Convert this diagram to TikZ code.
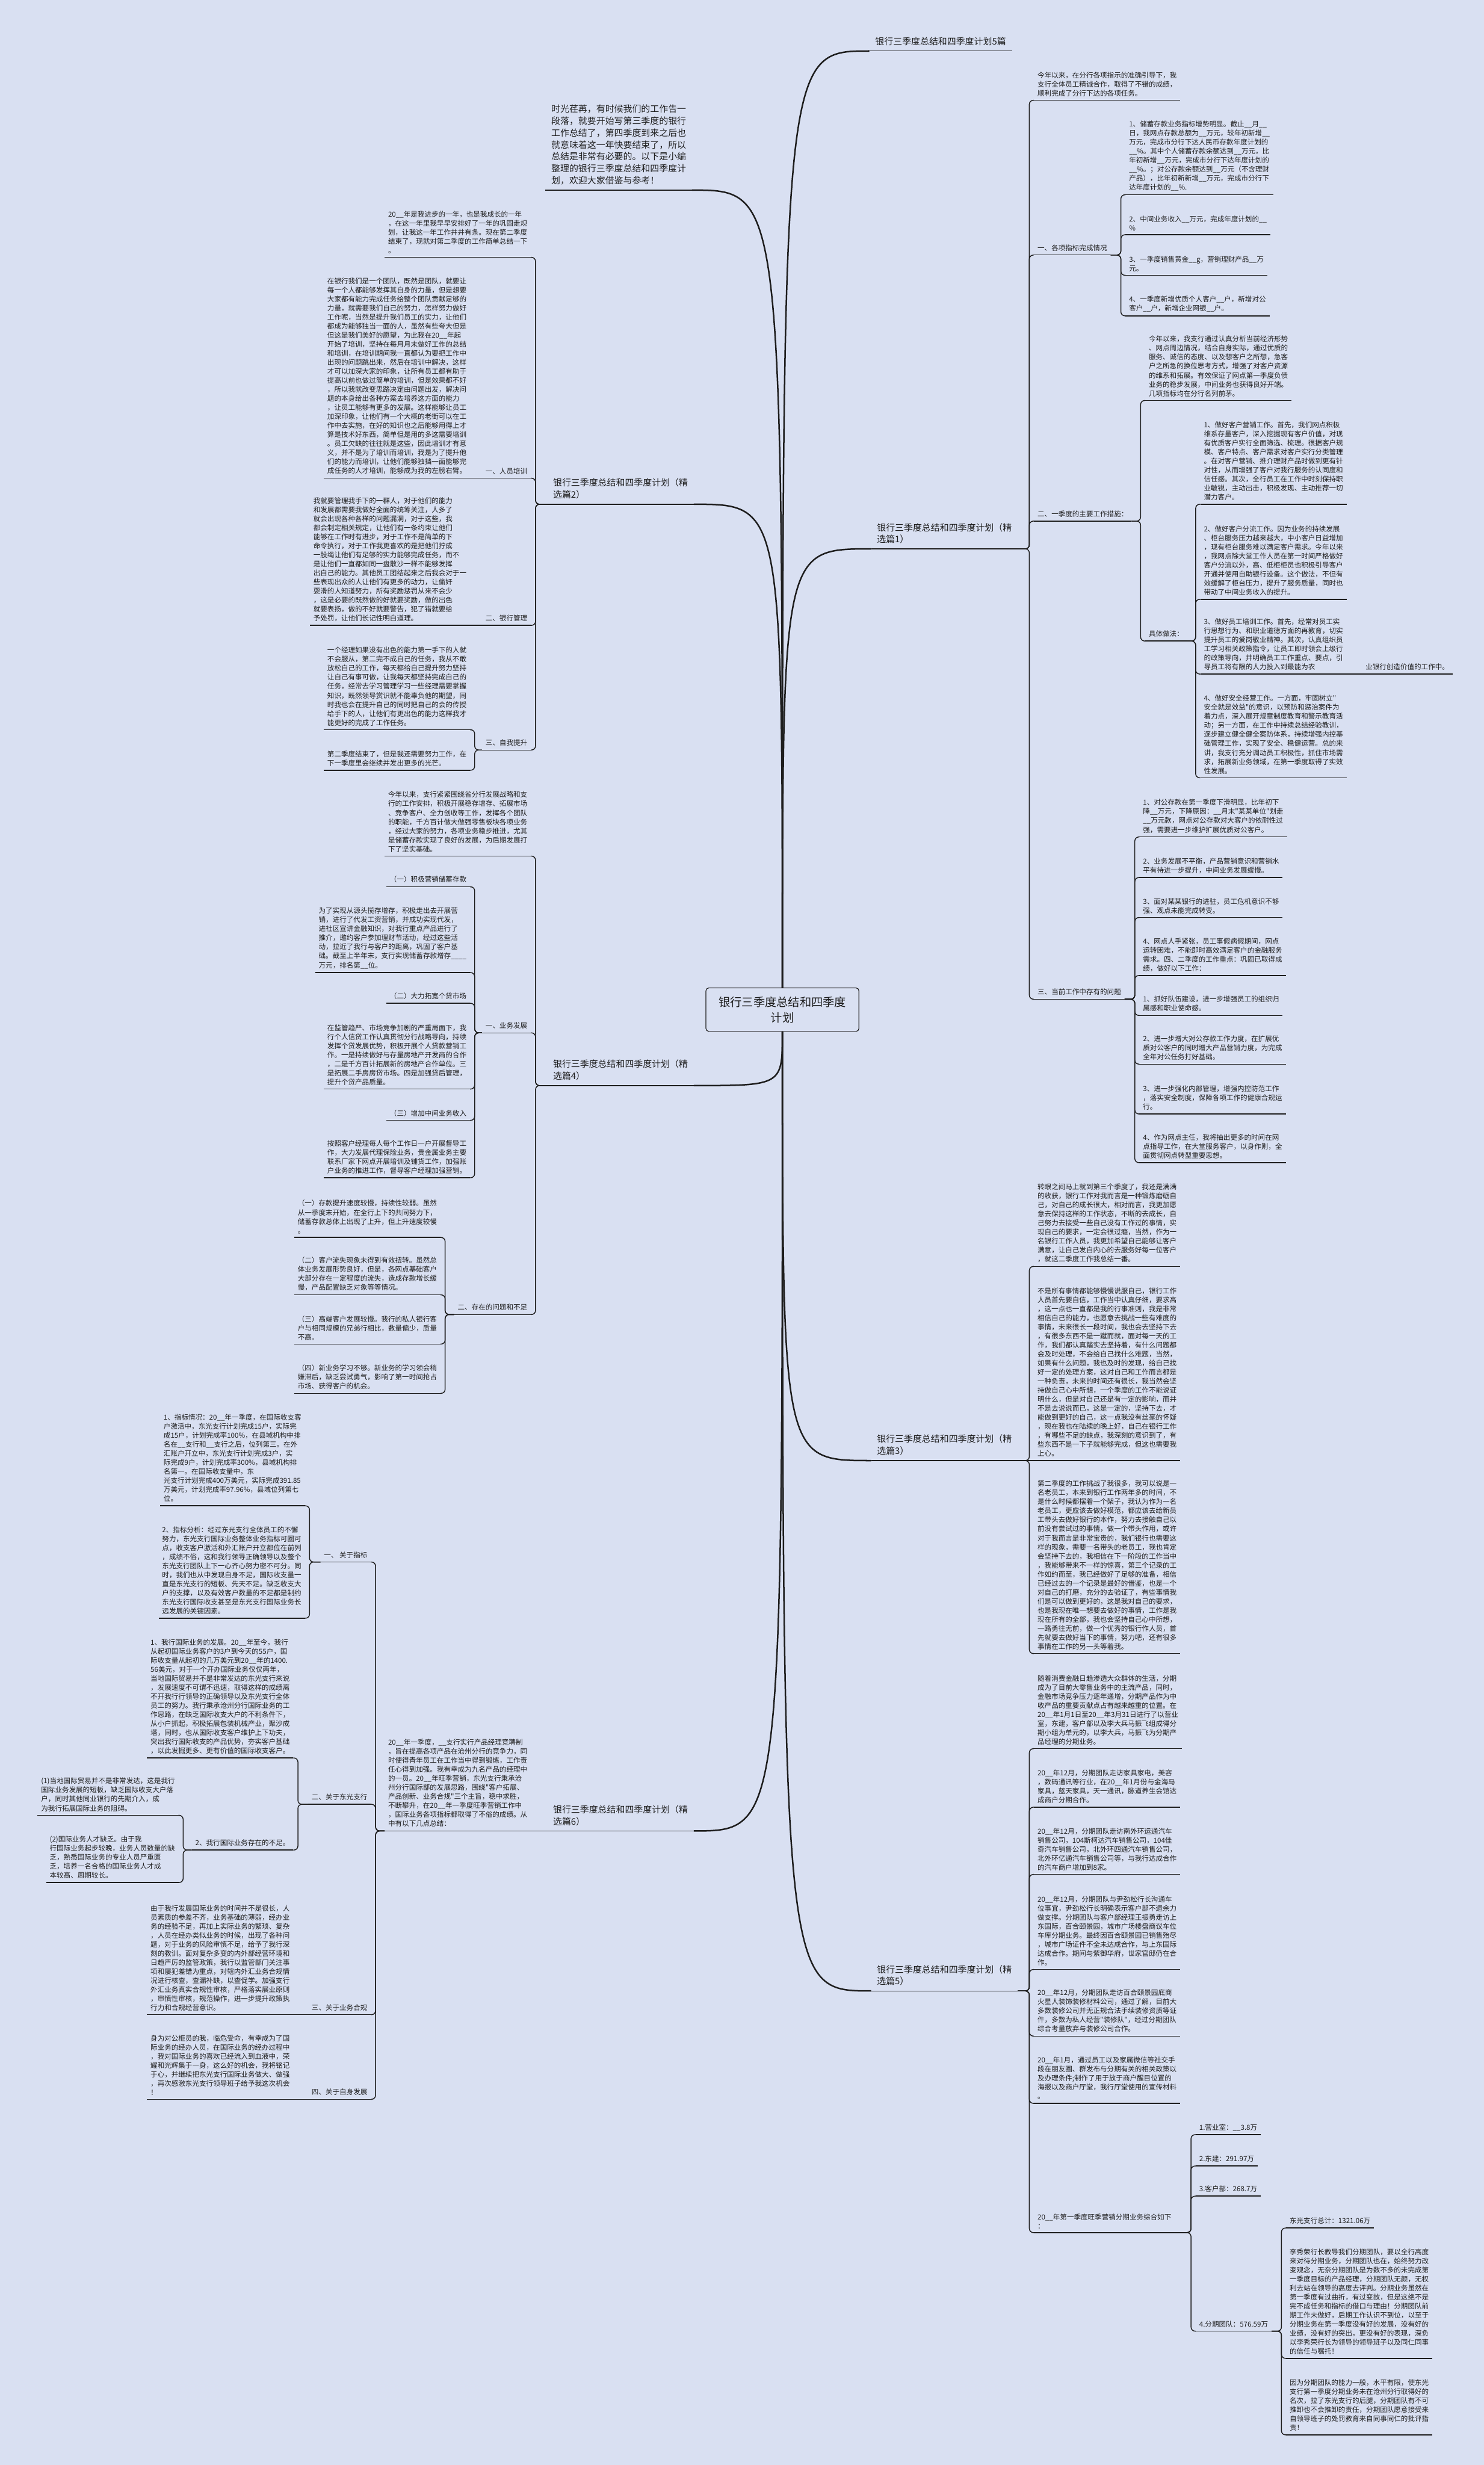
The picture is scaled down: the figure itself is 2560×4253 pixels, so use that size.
\documentclass[tikz,border=0pt]{standalone}
\usepackage{fontspec}
\newfontfamily\cjk{Noto Sans CJK SC}
\definecolor{bg}{RGB}{217,224,242}
\definecolor{ink}{RGB}{30,30,30}
\newcommand{\uu}{\_\_}
\begin{document}
\begin{tikzpicture}[x=1pt,y=-1pt,
    % text blocks, underlined
    txt/.style={font=\cjk\fontsize{12}{15.6}\selectfont,text=ink,align=left,
      inner xsep=6pt,inner ysep=6.5pt,underl},
    head/.style={font=\cjk\fontsize{15.5}{20.5}\selectfont,text=ink,align=left,
      inner xsep=10pt,inner ysep=9pt,underl},
    root/.style={draw=ink,line width=1.2pt,rounded corners=5pt,fill=bg,text=ink,
      font=\cjk\fontsize{20}{27}\selectfont,align=center,
      minimum width=264pt,minimum height=75pt},
    underl/.style={append after command={(\tikzlastnode.south west) edge[ulpen] (\tikzlastnode.south east)}},
    ulpen/.style={draw=ink,line width=1.5pt},
    fork/.style={draw=ink,line width=1.5pt,rounded corners=7pt},
    trunk/.style={draw=ink,line width=2.6pt}]
  \fill[bg] (0,0) rectangle (2560,4253);
  \useasboundingbox (0,0) rectangle (2560,4253);

  \node (root) [root] at (1350,1742) {银行三季度总结和四季度\\计划};

  % right side
  \node (t5) [head,anchor=south west] at (1500,88) {银行三季度总结和四季度计划5篇};

  \node (b1) [head,anchor=south west] at (1503,947) {银行三季度总结和四季度计划（精\\选篇1）};
  \node (b1i) [txt,anchor=south west] at (1784,173) {今年以来，在分行各项指示的准确引导下，我\\支行全体员工精诚合作，取得了不错的成绩，\\顺利完成了分行下达的各项任务。};
  \node (b1a) [txt,anchor=south west] at (1784,440) {一、各项指标完成情况};
  \node (b1a1) [txt,anchor=south west] at (1942,336) {1、储蓄存款业务指标增势明显。截止\uu 月\uu\\日，我网点存款总额为\uu 万元，较年初新增\uu\\万元，完成市分行下达人民币存款年度计划的\\\uu\%。其中个人储蓄存款余额达到\uu 万元，比\\年初新增\uu 万元，完成市分行下达年度计划的\\\uu\%。；对公存款余额达到\uu 万元（不含理财\\产品），比年初新新增\uu 万元，完成市分行下\\达年度计划的\uu\%.};
  \node (b1a2) [txt,anchor=south west] at (1942,405) {2、中间业务收入\uu 万元，完成年度计划的\uu\\\%};
  \node (b1a3) [txt,anchor=south west] at (1942,475) {3、一季度销售黄金\uu g，营销理财产品\uu 万\\元。};
  \node (b1a4) [txt,anchor=south west] at (1942,545) {4、一季度新增优质个人客户\uu 户，新增对公\\客户\uu 户，新增企业网银\uu 户。};
  \node (b1b) [txt,anchor=south west] at (1784,899) {二、一季度的主要工作措施：};
  \node (b1b1) [txt,anchor=south west] at (1976,691) {今年以来，我支行通过认真分析当前经济形势\\、网点周边情况，结合自身实际，通过优质的\\服务、诚信的态度、以及想客户之所想，急客\\户之所急的换位思考方式，增强了对客户资源\\的维系和拓展。有效保证了网点第一季度负债\\业务的稳步发展，中间业务也获得良好开端。\\几项指标均在分行名列前茅。};
  \node (b1b2) [txt,anchor=south west] at (1976,1106) {具体做法：};
  \node (b1c1) [txt,anchor=south west] at (2071,870) {1、做好客户营销工作。首先，我们网点积极\\维系存量客户，深入挖掘现有客户价值，对现\\有优质客户实行全面筛选、梳理。很据客户规\\模、客户特点、客户需求对客户实行分类管理\\。在对客户营销、推介理财产品时做到更有针\\对性，从而增强了客户对我行服务的认同度和\\信任感。其次，全行员工在工作中时刻保持职\\业敏锐，主动出击，积极发现、主动推荐一切\\潜力客户。};
  \node (b1c2) [txt,anchor=south west] at (2071,1034) {2、做好客户分流工作。因为业务的持续发展\\、柜台服务压力越来越大，中小客户日益增加\\，现有柜台服务难以满足客户需求。今年以来\\，我网点除大堂工作人员在第一时间严格做好\\客户分流以外，高、低柜柜员也积极引导客户\\开通并使用自助银行设备。这个做法，不但有\\效缓解了柜台压力，提升了服务质量，同时也\\带动了中间业务收入的提升。};
  \node (b1c3) [txt,anchor=south west] at (2071,1163) {3、做好员工培训工作。首先，经常对员工实\\行思想行为、和职业道德方面的再教育，切实\\提升员工的爱岗敬业精神。其次，认真组织员\\工学习相关政策指令，让员工即时领会上级行\\的政策导向，并明确员工工作重点、要点，引\\导员工将有限的人力投入到最能为农};
  \node (b1c3x) [txt,anchor=south west] at (2350,1163) {业银行创造价值的工作中。};
  \node (b1c4) [txt,anchor=south west] at (2071,1342) {4、做好安全经营工作。一方面，牢固树立"\\安全就是效益"的意识，以预防和惩治案件为\\着力点，深入展开规章制度教育和警示教育活\\动；另一方面，在工作中持续总结经验教训，\\逐步建立健全健全案防体系，持续增强内控基\\础管理工作，实现了安全、稳健运营。总的来\\讲，我支行充分调动员工积极性，抓住市场需\\求，拓展新业务领域，在第一季度取得了实效\\性发展。};
  \node (b1c) [txt,anchor=south west] at (1784,1724) {三、当前工作中存有的问题};
  \node (b1d1) [txt,anchor=south west] at (1966,1444) {1、对公存款在第一季度下滑明显，比年初下\\降\uu 万元，下降原因：\uu 月末"某某单位"划走\\\uu 万元款，网点对公存款对大客户的依耐性过\\强，需要进一步维护扩展优质对公客户。};
  \node (b1d2) [txt,anchor=south west] at (1966,1514) {2、业务发展不平衡，产品营销意识和营销水\\平有待进一步提升，中间业务发展缓慢。};
  \node (b1d3) [txt,anchor=south west] at (1966,1583) {3、面对某某银行的进驻，员工危机意识不够\\强、观点未能完成转变。};
  \node (b1d4) [txt,anchor=south west] at (1966,1683) {4、网点人手紧张，员工事假病假期间，网点\\运转困难，不能即时高效满足客户的金融服务\\需求。四、二季度的工作重点：巩固已取得成\\绩，做好以下工作：};
  \node (b1d5) [txt,anchor=south west] at (1966,1752) {1、抓好队伍建设，进一步增强员工的组织归\\属感和职业使命感。};
  \node (b1d6) [txt,anchor=south west] at (1966,1836) {2、进一步增大对公存款工作力度，在扩展优\\质对公客户的同时增大产品营销力度，为完成\\全年对公任务打好基础。};
  \node (b1d7) [txt,anchor=south west] at (1966,1922) {3、进一步强化内部管理，增强内控防范工作\\，落实安全制度，保障各项工作的健康合规运\\行。};
  \node (b1d8) [txt,anchor=south west] at (1966,2006) {4、作为网点主任，我将抽出更多的时间在网\\点指导工作，在大堂服务客户，以身作则，全\\面贯彻网点转型重要思想。};

  \node (b3) [head,anchor=south west] at (1503,2520) {银行三季度总结和四季度计划（精\\选篇3）};
  \node (b3a) [txt,anchor=south west] at (1784,2185) {转眼之间马上就到第三个季度了，我还是满满\\的收获，银行工作对我而言是一种锻炼磨砺自\\己，对自己的成长很大，相对而言，我更加愿\\意去保持这样的工作状态，不断的去成长，自\\己努力去接受一些自己没有工作过的事情，实\\现自己的要求，一定会很过瘾，当然，作为一\\名银行工作人员，我更加希望自己能够让客户\\满意，让自己发自内心的去服务好每一位客户\\，就这二季度工作我总结一番。};
  \node (b3b) [txt,anchor=south west] at (1784,2520) {不是所有事情都能够慢慢说服自己，银行工作\\人员首先要自信，工作当中认真仔细，要求高\\，这一点也一直都是我的行事准则，我是非常\\相信自己的能力，也愿意去挑战一些有难度的\\事情，未来很长一段时间，我也会去坚持下去\\，有很多东西不是一蹴而就，面对每一天的工\\作，我们都认真踏实去坚持着，有什么问题都\\会及时处理，不会给自己找什么难题，当然，\\如果有什么问题，我也及时的发现，给自己找\\好一定的处理方案，这对自己和工作而言都是\\一种负责，未来的时间还有很长，我当然会坚\\持做自己心中所想，一个季度的工作不能说证\\明什么，但是对自己还是有一定的影响，而并\\不是去说说而已，这是一定的，坚持下去，才\\能做到更好的自己，这一点我没有丝毫的怀疑\\，现在我也在陆续的晚上好，自己在银行工作\\，有哪些不足的缺点，我深刻的意识到了，有\\些东西不是一下子就能够完成，但这也需要我\\上心。};
  \node (b3c) [txt,anchor=south west] at (1784,2853) {第二季度的工作挑战了我很多，我可以说是一\\名老员工，本来到银行工作两年多的时间，不\\是什么时候都摆着一个架子，我认为作为一名\\老员工，更应该去做好模范，都应该去给新员\\工带头去做好银行的本作，努力去接触自己以\\前没有尝试过的事情，做一个带头作用，或许\\对于我而言是非常宝贵的，我们银行也需要这\\样的现象，需要一名带头的老员工，我也肯定\\会坚持下去的，我相信在下一阶段的工作当中\\，我能够带来不一样的惊喜，第三个记录的工\\作如约而至，我已经做好了足够的准备，相信\\已经过去的一个记录是最好的借鉴，也是一个\\对自己的打磨，充分的去验证了，有些事情我\\们是可以做到更好的，这是我对自己的要求，\\也是我现在唯一想要去做好的事情，工作是我\\现在所有的全部，我也会坚持自己心中所想，\\一路勇往无前，做一个优秀的银行作人员，首\\先就要去做好当下的事情，努力吧，还有很多\\事情在工作的另一头等着我。};

  \node (b5) [head,anchor=south west] at (1503,3435) {银行三季度总结和四季度计划（精\\选篇5）};
  \node (b5a) [txt,anchor=south west] at (1784,3017) {随着消费金融日趋渗透大众群体的生活，分期\\成为了目前大零售业务中的主流产品，同时，\\金融市场竞争压力逐年递增，分期产品作为中\\收产品的重要贡献点占有越来越重的位置。在\\20\uu 年1月1日至20\uu 年3月31日进行了以营业\\室，东建，客户部以及李大兵马振飞组成得分\\期小组为单元的，以李大兵，马振飞为分期产\\品经理的分期业务。};
  \node (b5b) [txt,anchor=south west] at (1784,3118) {20\uu 年12月，分期团队走访家具家电，美容\\，数码通讯等行业，在20\uu 年1月份与金海马\\家具，蓝天家具，天一通讯，脉道养生会馆达\\成商户分期合作。};
  \node (b5c) [txt,anchor=south west] at (1784,3234) {20\uu 年12月，分期团队走访南外环运通汽车\\销售公司，104斯柯达汽车销售公司，104佳\\奇汽车销售公司，北外环四通汽车销售公司，\\北外环亿通汽车销售公司等，与我行达成合作\\的汽车商户增加到8家。};
  \node (b5d) [txt,anchor=south west] at (1784,3398) {20\uu 年12月，分期团队与尹劲松行长沟通车\\位事宜，尹劲松行长明确表示客户部不遗余力\\做支撑。分期团队与客户部经理王振勇走访上\\东国际，百合颐景园，城市广场楼盘商议车位\\车库分期业务。最终因百合颐景园已销售殆尽\\，城市广场证件不全未达成合作，与上东国际\\达成合作。期间与紫御华府，世家官邸仍在合\\作。};
  \node (b5e) [txt,anchor=south west] at (1784,3513) {20\uu 年12月，分期团队走访百合颐景园底商\\火星人装饰装修材料公司，通过了解，目前大\\多数装修公司并无正规合法手续装修资质等证\\件，多数为私人经营"装修队"，经过分期团队\\综合考量放弃与装修公司合作。};
  \node (b5f) [txt,anchor=south west] at (1784,3629) {20\uu 年1月，通过员工以及家属微信等社交手\\段在朋友圈、群发布与分期有关的相关政策以\\及办理条件;制作了用于放于商户醒目位置的\\海报以及商户厅堂，我行厅堂使用的宣传材料\\。};
  \node (b5g) [txt,anchor=south west] at (1784,3852) {20\uu 年第一季度旺季营销分期业务综合如下\\：};
  \node (b5g1) [txt,anchor=south west] at (2063,3683) {1.营业室：\uu 3.8万};
  \node (b5g2) [txt,anchor=south west] at (2063,3737) {2.东建：291.97万};
  \node (b5g3) [txt,anchor=south west] at (2063,3789) {3.客户部：268.7万};
  \node (b5g4) [txt,anchor=south west] at (2063,4022) {4.分期团队：576.59万};
  \node (b5h1) [txt,anchor=south west] at (2219,3844) {东光支行总计：1321.06万};
  \node (b5h2) [txt,anchor=south west] at (2219,4069) {李秀荣行长教导我们分期团队，要以全行高度\\来对待分期业务，分期团队也在，始终努力改\\变观念，无奈分期团队是为数不多的未完成第\\一季度目标的产品经理，分期团队无颜，无权\\利去站在领导的高度去评判。分期业务虽然在\\第一季度有过曲折，有过变故，但是这绝不是\\完不成任务和指标的借口与理由！分期团队前\\期工作未做好，后期工作认识不到位，以至于\\分期业务在第一季度没有好的发展，没有好的\\业绩，没有好的突出，更没有好的表现，深负\\以李秀荣行长为领导的领导班子以及同仁同事\\的信任与嘱托！};
  \node (b5h3) [txt,anchor=south west] at (2219,4201) {因为分期团队的能力一般，水平有限，使东光\\支行第一季度分期业务未在沧州分行取得好的\\名次，拉了东光支行的后腿，分期团队有不可\\推卸也不会推卸的责任，分期团队愿意接受来\\自领导班子的处罚教育来自同事同仁的批评指\\责！};

  % left side
  \node (l0) [head,anchor=south east] at (1194,328) {时光荏苒，有时候我们的工作告一\\段落，就要开始写第三季度的银行\\工作总结了，第四季度到来之后也\\就意味着这一年快要结束了，所以\\总结是非常有必要的。以下是小编\\整理的银行三季度总结和四季度计\\划，欢迎大家借鉴与参考！};

  \node (b2) [head,anchor=south east] at (1197,870) {银行三季度总结和四季度计划（精\\选篇2）};
  \node (b2i) [txt,anchor=south east] at (916,444) {20\uu 年是我进步的一年，也是我成长的一年\\，在这一年里我早早安排好了一年的巩固走规\\划，让我这一年工作井井有条。现在第二季度\\结束了，现就对第二季度的工作简单总结一下\\。};
  \node (b2a) [txt,anchor=south east] at (916,825) {一、人员培训};
  \node (b2a1) [txt,anchor=south east] at (811,825) {在银行我们是一个团队，既然是团队，就要让\\每一个人都能够发挥其自身的力量，但是想要\\大家都有能力完成任务给整个团队贡献足够的\\力量，就需要我们自己的努力，怎样努力做好\\工作呢，当然是提升我们员工的实力，让他们\\都成为能够独当一面的人，虽然有些夸大但是\\但这是我们美好的愿望，为此我在20\uu 年起\\开始了培训，坚持在每月月末做好工作的总结\\和培训，在培训期间我一直都认为要把工作中\\出现的问题跳出来，然后在培训中解决，这样\\才可以加深大家的印象，让所有员工都有助于\\提高以前也做过简单的培训，但是效果都不好\\，所以我就改变思路决定由问题出发，解决问\\题的本身给出各种方案去培养这方面的能力\\，让员工能够有更多的发展。这样能够让员工\\加深印象，让他们有一个大概的老街可以在工\\作中去实施，在好的知识也之后能够用得上才\\算是技术好东西，简单但是用的多这需要培训\\。员工欠缺的往往就是这些，因此培训才有意\\义，并不是为了培训而培训，我是为了提升他\\们的能力而培训，让他们能够独挡一面能够完\\成任务的人才培训，能够成为我的左膀右臂。};
  \node (b2b) [txt,anchor=south east] at (916,1079) {二、银行管理};
  \node (b2b1) [txt,anchor=south east] at (811,1079) {我就要管理我手下的一群人，对于他们的能力\\和发展都需要我做好全面的统筹关注，人多了\\就会出现各种各样的问题漏洞，对于这些，我\\都会制定相关规定，让他们有一条约束让他们\\能够在工作时有进步，对于工作不是简单的下\\命令执行，对于工作我更喜欢的是把他们拧成\\一股绳让他们有足够的实力能够完成任务，而不\\是让他们一直都如同一盘散沙一样不能够发挥\\出自己的能力。其他员工团结起来之后我会对于一\\些表现出众的人让他们有更多的动力，让偷奸\\耍滑的人知道努力，所有奖励惩罚从来不会少\\，这是必要的既然做的好就要奖励，做的出色\\就要表扬，做的不好就要警告，犯了错就要给\\予处罚，让他们长记性明白道理。};
  \node (b2c) [txt,anchor=south east] at (916,1294) {三、自我提升};
  \node (b2c1) [txt,anchor=south east] at (811,1259) {一个经理如果没有出色的能力第一手下的人就\\不会服从，第二完不成自己的任务，我从不敢\\放松自己的工作，每天都给自己提升努力坚持\\让自己有事可做，让我每天都坚持完成自己的\\任务，经常去学习管理学习一些经理需要掌握\\知识，既然领导赏识就不能辜负他的期望，同\\时我也会在提升自己的同时把自己的会的传授\\给手下的人，让他们有更出色的能力这样我才\\能更好的完成了工作任务。};
  \node (b2c2) [txt,anchor=south east] at (811,1329) {第二季度结束了，但是我还需要努力工作，在\\下一季度里会继续并发出更多的光芒。};

  \node (b4) [head,anchor=south east] at (1197,1873) {银行三季度总结和四季度计划（精\\选篇4）};
  \node (b4i) [txt,anchor=south east] at (916,1477) {今年以来，支行紧紧围绕省分行发展战略和支\\行的工作安排，积极开展稳存增存、拓展市场\\、竞争客户、全力创收等工作，发挥各个团队\\的职能，千方百计做大做强零售板块各项业务\\，经过大家的努力，各项业务稳步推进，尤其\\是储蓄存款实现了良好的发展，为后期发展打\\下了坚实基础。};
  \node (b4a) [txt,anchor=south east] at (916,1782) {一、业务发展};
  \node (b4a1) [txt,anchor=south east] at (811,1530) {（一）积极营销储蓄存款};
  \node (b4a2) [txt,anchor=south east] at (811,1678) {为了实现从源头揽存增存，积极走出去开展营\\销，进行了代发工资营销，并成功实现代发，\\进社区宣讲金融知识，对我行重点产品进行了\\推介，邀约客户参加理财节活动，经过这些活\\动，拉近了我行与客户的距离，巩固了客户基\\础。截至上半年末，支行实现储蓄存款增存\_\_\_\_\\万元，排名第\uu 位。};
  \node (b4a3) [txt,anchor=south east] at (811,1731) {（二）大力拓宽个贷市场};
  \node (b4a4) [txt,anchor=south east] at (811,1879) {在监管趋严、市场竞争加剧的严重局面下，我\\行个人信贷工作认真贯彻分行战略导向，持续\\发挥个贷发展优势，积极开展个人贷款营销工\\作。一是持续做好与存量房地产开发商的合作\\，二是千方百计拓展新的房地产合作单位。三\\是拓展二手房房贷市场。四是加强贷后管理，\\提升个贷产品质量。};
  \node (b4a5) [txt,anchor=south east] at (811,1933) {（三）增加中间业务收入};
  \node (b4a6) [txt,anchor=south east] at (811,2032) {按照客户经理每人每个工作日一户开展督导工\\作，大力发展代理保险业务，贵金属业务主要\\联系厂家下网点开展培训及铺货工作，加强账\\户业务的推进工作，督导客户经理加强营销。};
  \node (b4b) [txt,anchor=south east] at (916,2268) {二、存在的问题和不足};
  \node (b4b1) [txt,anchor=south east] at (760,2135) {（一）存款提升速度较慢，持续性较弱。虽然\\从一季度末开始，在全行上下的共同努力下，\\储蓄存款总体上出现了上升，但上升速度较慢\\。};
  \node (b4b2) [txt,anchor=south east] at (760,2234) {（二）客户流失现象未得到有效扭转。虽然总\\体业务发展形势良好，但是，各网点基础客户\\大部分存在一定程度的流失，造成存款增长缓\\慢，产品配置缺乏对象等等情况。};
  \node (b4b3) [txt,anchor=south east] at (760,2319) {（三）高端客户发展较慢。我行的私人银行客\\户与相同规模的兄弟行相比，数量偏少，质量\\不高。};
  \node (b4b4) [txt,anchor=south east] at (760,2404) {（四）新业务学习不够。新业务的学习领会稍\\嫌滞后，缺乏尝试勇气，影响了第一时间抢占\\市场、获得客户的机会。};

  \node (b6) [head,anchor=south east] at (1197,3159) {银行三季度总结和四季度计划（精\\选篇6）};
  \node (b6i) [txt,anchor=south east] at (916,3159) {20\uu 年一季度，\uu 支行实行产品经理竞聘制\\，旨在提高各项产品在沧州分行的竞争力，同\\时使得青年员工在工作当中得到锻炼，工作责\\任心得到加强。我有幸成为九名产品的经理中\\的一员。20\uu 年旺季营销，东光支行秉承沧\\州分行国际部的发展思路，围绕"客户拓展、\\产品创新、业务合规"三个主旨，稳中求胜，\\不断攀升，在20\uu 年一季度旺季营销工作中\\，国际业务各项指标都取得了不俗的成绩。从\\中有以下几点总结：};
  \node (b6a) [txt,anchor=south east] at (640,2695) {一、 关于指标};
  \node (b6a1) [txt,anchor=south east] at (526,2598) {1、指标情况：20\uu 年一季度，在国际收支客\\户激活中，东光支行计划完成15户，实际完\\成15户，计划完成率100\%，在县域机构中排\\名在\uu 支行和\uu 支行之后，位列第三。在外\\汇账户开立中，东光支行计划完成3户，实\\际完成9户，计划完成率300\%，县域机构排\\名第一。在国际收支量中，东\\光支行计划完成400万美元，实际完成391.85\\万美元，计划完成率97.96\%，县域位列第七\\位。};
  \node (b6a2) [txt,anchor=south east] at (526,2792) {2、指标分析：经过东光支行全体员工的不懈\\努力，东光支行国际业务整体业务指标可圈可\\点，收支客户激活和外汇账户开立都位在前列\\，成绩不俗，这和我行领导正确领导以及整个\\东光支行团队上下一心齐心努力密不可分。同\\时，我们也从中发现自身不足，国际收支量一\\直是东光支行的短板、先天不足。缺乏收支大\\户的支撑，以及有效客户数量的不足都是制约\\东光支行国际收支甚至是东光支行国际业务长\\远发展的关键因素。};
  \node (b6b) [txt,anchor=south east] at (640,3113) {二、关于东光支行};
  \node (b6b1) [txt,anchor=south east] at (506,3033) {1、我行国际业务的发展。20\uu 年至今，我行\\从起初国际业务客户的3户到今天的55户，国\\际收支量从起初的几万美元到20\uu 年的1400.\\56美元，对于一个开办国际业务仅仅两年，\\当地国际贸易并不是非常发达的东光支行来说\\，发展速度不可谓不迅速，取得这样的成绩离\\不开我行行领导的正确领导以及东光支行全体\\员工的努力。我行秉承沧州分行国际业务的工\\作思路，在缺乏国际收支大户的不利条件下，\\从小户抓起，积极拓展包装机械产业，聚沙成\\塔，同时，也从国际收支客户维护上下功夫，\\突出我行国际收支的产品优势，夯实客户基础\\，以此发掘更多、更有价值的国际收支客户。};
  \node (b6b2) [txt,anchor=south east] at (506,3192) {2、我行国际业务存在的不足。};
  \node (b6b2a) [txt,anchor=south east] at (308,3132) {(1)当地国际贸易并不是非常发达，这是我行\\国际业务发展的短板，缺乏国际收支大户落\\户，同时其他同业银行的先期介入，成\\为我行拓展国际业务的阻碍。};
  \node (b6b2b) [txt,anchor=south east] at (308,3248) {(2)国际业务人才缺乏。由于我\\行国际业务起步较晚，业务人员数量的缺\\乏，熟悉国际业务的专业人员严重匮\\乏，培养一名合格的国际业务人才成\\本较高、周期较长。};
  \node (b6c) [txt,anchor=south east] at (640,3476) {三、关于业务合规};
  \node (b6c1) [txt,anchor=south east] at (506,3476) {由于我行发展国际业务的时间并不是很长，人\\员素质的参差不齐，业务基础的薄弱，经办业\\务的经验不足，再加上实际业务的繁琐、复杂\\，人员在经办类似业务的时候，出现了各种问\\题，对于业务的风险审慎不足，给予了我行深\\刻的教训。面对复杂多变的内外部经营环境和\\日趋严厉的监管政策，我行以监管部门关注事\\项和屡犯差错为重点，对辖内外汇业务合规情\\况进行核查，查漏补缺，以查促学。加强支行\\外汇业务真实合规性审核，严格落实展业原则\\，审慎性审核，规范操作，进一步提升政策执\\行力和合规经营意识。};
  \node (b6d) [txt,anchor=south east] at (640,3622) {四、关于自身发展};
  \node (b6d1) [txt,anchor=south east] at (506,3622) {身为对公柜员的我，临危受命，有幸成为了国\\际业务的经办人员，在国际业务的经办过程中\\，我对国际业务的喜欢已经流入到血液中，荣\\耀和光辉集于一身，这么好的机会，我将铭记\\于心，并继续把东光支行国际业务做大、做强\\，再次感激东光支行领导班子给予我这次机会\\！};

  % trunks from the centre
  \draw[trunk] (root.north) .. controls (1350,88) .. (t5.south west);
  \draw[trunk] (root.north) .. controls (1350,947) .. (b1.south west);
  \draw[trunk] (root.north) .. controls (1350,328) .. (l0.south east);
  \draw[trunk] (root.north) .. controls (1350,870) .. (b2.south east);
  \draw[trunk] (root.south) .. controls (1350,2520) .. (b3.south west);
  \draw[trunk] (root.south) .. controls (1350,3435) .. (b5.south west);
  \draw[trunk] (root.south) .. controls (1350,1873) .. (b4.south east);
  \draw[trunk] (root.south) .. controls (1350,3159) .. (b6.south east);

  % forks, right side
  \draw[fork] (b1.south east) -| ([xshift=-8pt]b1i.south west) -- (b1i.south west);
  \draw[fork] (b1.south east) -| ([xshift=-8pt]b1a.south west) -- (b1a.south west);
  \draw[fork] (b1.south east) -| ([xshift=-8pt]b1b.south west) -- (b1b.south west);
  \draw[fork] (b1.south east) -| ([xshift=-8pt]b1c.south west) -- (b1c.south west);
  \draw[fork] (b1a.south east) -| ([xshift=-8pt]b1a1.south west) -- (b1a1.south west);
  \draw[fork] (b1a.south east) -| ([xshift=-8pt]b1a2.south west) -- (b1a2.south west);
  \draw[fork] (b1a.south east) -| ([xshift=-8pt]b1a3.south west) -- (b1a3.south west);
  \draw[fork] (b1a.south east) -| ([xshift=-8pt]b1a4.south west) -- (b1a4.south west);
  \draw[fork] (b1b.south east) -| ([xshift=-8pt]b1b1.south west) -- (b1b1.south west);
  \draw[fork] (b1b.south east) -| ([xshift=-8pt]b1b2.south west) -- (b1b2.south west);
  \draw[fork] (b1b2.south east) -| ([xshift=-8pt]b1c1.south west) -- (b1c1.south west);
  \draw[fork] (b1b2.south east) -| ([xshift=-8pt]b1c2.south west) -- (b1c2.south west);
  \draw[fork] (b1b2.south east) -| ([xshift=-8pt]b1c3.south west) -- (b1c3.south west);
  \draw[fork] (b1b2.south east) -| ([xshift=-8pt]b1c4.south west) -- (b1c4.south west);
  \draw[ulpen] (b1c3.south east) -- (b1c3x.south west);
  \draw[fork] (b1c.south east) -| ([xshift=-8pt]b1d1.south west) -- (b1d1.south west);
  \draw[fork] (b1c.south east) -| ([xshift=-8pt]b1d2.south west) -- (b1d2.south west);
  \draw[fork] (b1c.south east) -| ([xshift=-8pt]b1d3.south west) -- (b1d3.south west);
  \draw[fork] (b1c.south east) -| ([xshift=-8pt]b1d4.south west) -- (b1d4.south west);
  \draw[fork] (b1c.south east) -| ([xshift=-8pt]b1d5.south west) -- (b1d5.south west);
  \draw[fork] (b1c.south east) -| ([xshift=-8pt]b1d6.south west) -- (b1d6.south west);
  \draw[fork] (b1c.south east) -| ([xshift=-8pt]b1d7.south west) -- (b1d7.south west);
  \draw[fork] (b1c.south east) -| ([xshift=-8pt]b1d8.south west) -- (b1d8.south west);

  \draw[fork] (b3.south east) -| ([xshift=-8pt]b3a.south west) -- (b3a.south west);
  \draw[ulpen] (b3.south east) -- (b3b.south west);
  \draw[fork] (b3.south east) -| ([xshift=-8pt]b3c.south west) -- (b3c.south west);

  \draw[fork] (b5.south east) -| ([xshift=-8pt]b5a.south west) -- (b5a.south west);
  \draw[fork] (b5.south east) -| ([xshift=-8pt]b5b.south west) -- (b5b.south west);
  \draw[fork] (b5.south east) -| ([xshift=-8pt]b5c.south west) -- (b5c.south west);
  \draw[fork] (b5.south east) -| ([xshift=-8pt]b5d.south west) -- (b5d.south west);
  \draw[fork] (b5.south east) -| ([xshift=-8pt]b5e.south west) -- (b5e.south west);
  \draw[fork] (b5.south east) -| ([xshift=-8pt]b5f.south west) -- (b5f.south west);
  \draw[fork] (b5.south east) -| ([xshift=-8pt]b5g.south west) -- (b5g.south west);
  \draw[fork] (b5g.south east) -| ([xshift=-8pt]b5g1.south west) -- (b5g1.south west);
  \draw[fork] (b5g.south east) -| ([xshift=-8pt]b5g2.south west) -- (b5g2.south west);
  \draw[fork] (b5g.south east) -| ([xshift=-8pt]b5g3.south west) -- (b5g3.south west);
  \draw[fork] (b5g.south east) -| ([xshift=-8pt]b5g4.south west) -- (b5g4.south west);
  \draw[fork] (b5g4.south east) -| ([xshift=-8pt]b5h1.south west) -- (b5h1.south west);
  \draw[fork] (b5g4.south east) -| ([xshift=-8pt]b5h2.south west) -- (b5h2.south west);
  \draw[fork] (b5g4.south east) -| ([xshift=-8pt]b5h3.south west) -- (b5h3.south west);

  % forks, left side
  \draw[fork] (b2.south west) -| ([xshift=8pt]b2i.south east) -- (b2i.south east);
  \draw[fork] (b2.south west) -| ([xshift=8pt]b2a.south east) -- (b2a.south east);
  \draw[fork] (b2.south west) -| ([xshift=8pt]b2b.south east) -- (b2b.south east);
  \draw[fork] (b2.south west) -| ([xshift=8pt]b2c.south east) -- (b2c.south east);
  \draw[ulpen] (b2a.south west) -- (b2a1.south east);
  \draw[ulpen] (b2b.south west) -- (b2b1.south east);
  \draw[fork] (b2c.south west) -| ([xshift=8pt]b2c1.south east) -- (b2c1.south east);
  \draw[fork] (b2c.south west) -| ([xshift=8pt]b2c2.south east) -- (b2c2.south east);

  \draw[fork] (b4.south west) -| ([xshift=8pt]b4i.south east) -- (b4i.south east);
  \draw[fork] (b4.south west) -| ([xshift=8pt]b4a.south east) -- (b4a.south east);
  \draw[fork] (b4.south west) -| ([xshift=8pt]b4b.south east) -- (b4b.south east);
  \draw[fork] (b4a.south west) -| ([xshift=8pt]b4a1.south east) -- (b4a1.south east);
  \draw[fork] (b4a.south west) -| ([xshift=8pt]b4a2.south east) -- (b4a2.south east);
  \draw[fork] (b4a.south west) -| ([xshift=8pt]b4a3.south east) -- (b4a3.south east);
  \draw[fork] (b4a.south west) -| ([xshift=8pt]b4a4.south east) -- (b4a4.south east);
  \draw[fork] (b4a.south west) -| ([xshift=8pt]b4a5.south east) -- (b4a5.south east);
  \draw[fork] (b4a.south west) -| ([xshift=8pt]b4a6.south east) -- (b4a6.south east);
  \draw[fork] (b4b.south west) -| ([xshift=8pt]b4b1.south east) -- (b4b1.south east);
  \draw[fork] (b4b.south west) -| ([xshift=8pt]b4b2.south east) -- (b4b2.south east);
  \draw[fork] (b4b.south west) -| ([xshift=8pt]b4b3.south east) -- (b4b3.south east);
  \draw[fork] (b4b.south west) -| ([xshift=8pt]b4b4.south east) -- (b4b4.south east);

  \draw[ulpen] (b6.south west) -- (b6i.south east);
  \draw[fork] (b6i.south west) -| ([xshift=8pt]b6a.south east) -- (b6a.south east);
  \draw[fork] (b6i.south west) -| ([xshift=8pt]b6b.south east) -- (b6b.south east);
  \draw[fork] (b6i.south west) -| ([xshift=8pt]b6c.south east) -- (b6c.south east);
  \draw[fork] (b6i.south west) -| ([xshift=8pt]b6d.south east) -- (b6d.south east);
  \draw[fork] (b6a.south west) -| ([xshift=8pt]b6a1.south east) -- (b6a1.south east);
  \draw[fork] (b6a.south west) -| ([xshift=8pt]b6a2.south east) -- (b6a2.south east);
  \draw[fork] (b6b.south west) -| ([xshift=8pt]b6b1.south east) -- (b6b1.south east);
  \draw[fork] (b6b.south west) -| ([xshift=8pt]b6b2.south east) -- (b6b2.south east);
  \draw[fork] (b6b2.south west) -| ([xshift=8pt]b6b2a.south east) -- (b6b2a.south east);
  \draw[fork] (b6b2.south west) -| ([xshift=8pt]b6b2b.south east) -- (b6b2b.south east);
  \draw[ulpen] (b6c.south west) -- (b6c1.south east);
  \draw[ulpen] (b6d.south west) -- (b6d1.south east);
\end{tikzpicture}
\end{document}
